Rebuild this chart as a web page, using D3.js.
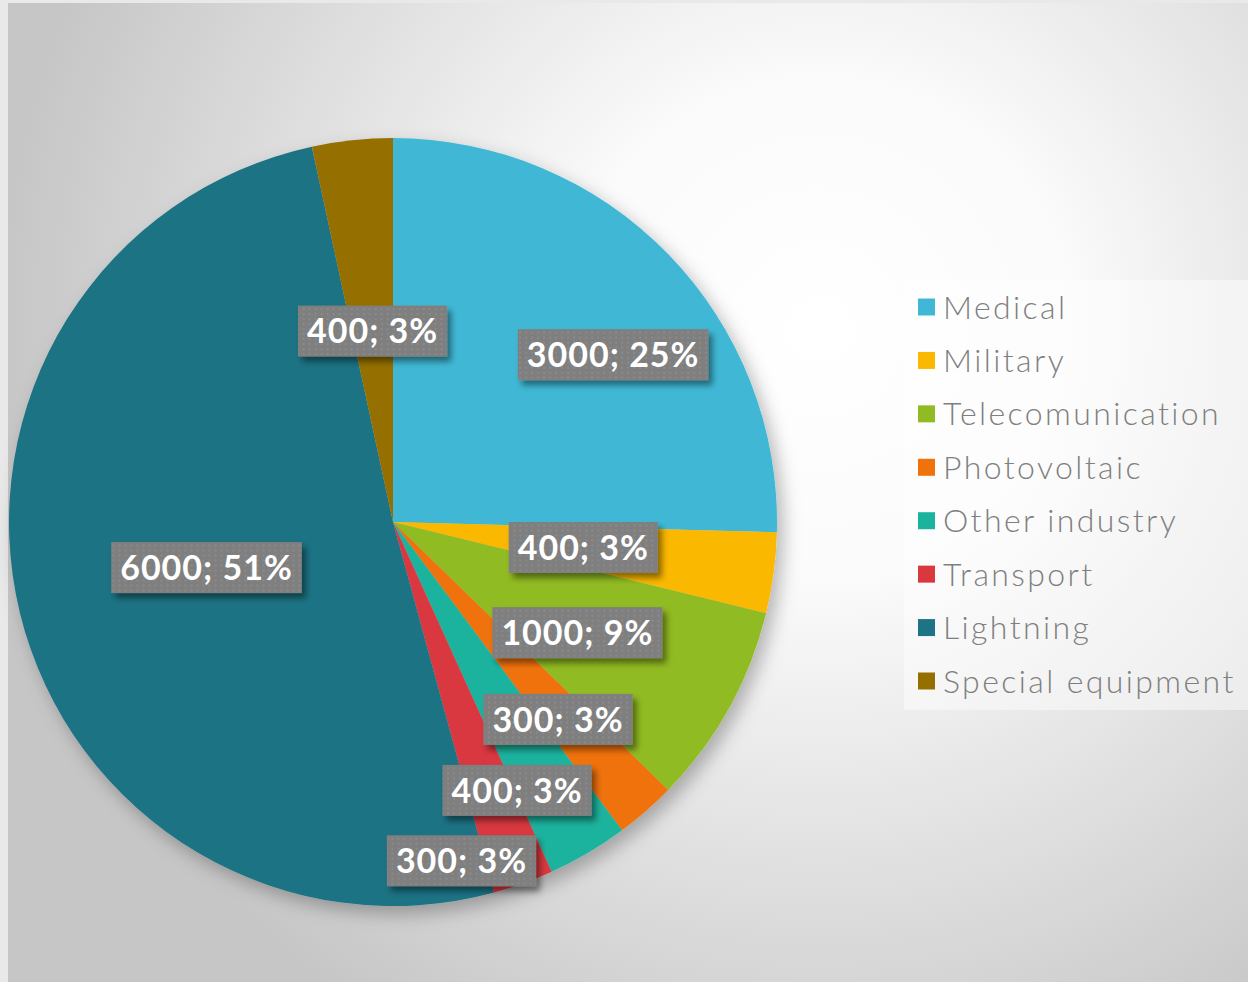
<!DOCTYPE html>
<html>
<head>
<meta charset="utf-8">
<script src="https://cdn.jsdelivr.net/npm/d3@7"></script>
<style>
html,body{margin:0;padding:0;background:#e9e9e9;}
svg{display:block;}
</style>
</head>
<body>
<svg id="chart" width="1248" height="982"></svg>
<script>
// ---- data ----
const categories = ["Medical","Military","Telecomunication","Photovoltaic","Other industry","Transport","Lightning","Special equipment"];
const values = [3000,400,1000,300,400,300,6000,400];
const percentLabels = ["25%","3%","9%","3%","3%","3%","51%","3%"];
const colors = ["#40b8d5","#fbb800","#91bb23","#ef720b","#1bb39e","#d9383f","#1e7384","#957000"];

// label placement (layout, not data): radius fraction and angle nudge in degrees
const labelRadius = [0.72,0.50,0.56,0.67,0.77,0.90,0.50,0.50];
const labelNudge  = [7,0,2,1.3,5.7,8.4,0,0];

const W = 1248, H = 982;
const cx = 393, cy = 522, R = 384;

const svg = d3.select("#chart");
const defs = svg.append("defs");

// background gradient
const bg = defs.append("radialGradient").attr("id","bgGrad")
  .attr("gradientUnits","userSpaceOnUse").attr("cx",820).attr("cy",330).attr("r",820);
bg.append("stop").attr("offset","0").attr("stop-color","#ffffff");
bg.append("stop").attr("offset","0.3").attr("stop-color","#fbfbfb");
bg.append("stop").attr("offset","1").attr("stop-color","#c6c6c6");

// pie shadow
const ps = defs.append("filter").attr("id","pieShadow").attr("x","-20%").attr("y","-20%").attr("width","140%").attr("height","140%");
ps.append("feDropShadow").attr("dx",6).attr("dy",8).attr("stdDeviation",9).attr("flood-color","#000").attr("flood-opacity",0.28);

// label shadow
const ls = defs.append("filter").attr("id","lblShadow").attr("x","-20%").attr("y","-30%").attr("width","150%").attr("height","170%");
ls.append("feDropShadow").attr("dx",4).attr("dy",5).attr("stdDeviation",3).attr("flood-color","#000").attr("flood-opacity",0.45);

// dotted pattern
const pat = defs.append("pattern").attr("id","dots").attr("patternUnits","userSpaceOnUse")
  .attr("width",6).attr("height",5);
pat.append("rect").attr("width",6).attr("height",5).attr("fill","#7f7f7f");
pat.append("rect").attr("x",2).attr("y",2).attr("width",2).attr("height",2).attr("fill","#8a8a8a");

svg.append("rect").attr("x",8).attr("y",3).attr("width",W-8).attr("height",H-3).attr("fill","url(#bgGrad)");

// pie
const pie = d3.pie().sort(null).value(d => d);
const arcs = pie(values);
const arc = d3.arc().innerRadius(0).outerRadius(R);

const g = svg.append("g").attr("transform",`translate(${cx},${cy})`);
g.append("g").attr("filter","url(#pieShadow)")
  .selectAll("path").data(arcs).join("path")
  .attr("d",arc).attr("fill",(d,i)=>colors[i]);

// labels
const lblG = g.append("g");
arcs.forEach((d,i)=>{
  const mid = (d.startAngle + d.endAngle)/2 + labelNudge[i]*Math.PI/180;
  const r = labelRadius[i]*R;
  const la = d3.arc().innerRadius(r).outerRadius(r).startAngle(mid).endAngle(mid);
  const [x,y] = la.centroid();
  const grp = lblG.append("g").attr("transform",`translate(${x},${y})`);
  const rect = grp.append("rect").attr("fill","url(#dots)").attr("filter","url(#lblShadow)");
  const t = grp.append("text")
    .attr("text-anchor","middle").attr("dy","0.36em")
    .attr("fill","#ffffff").attr("font-family","Lato, 'Open Sans', sans-serif")
    .attr("font-weight","bold").attr("font-size",34).attr("letter-spacing",1)
    .text(`${values[i]}; ${percentLabels[i]}`);
  const w = t.node().getComputedTextLength() + 18;
  const h = 51;
  rect.attr("x",-w/2).attr("y",-h/2).attr("width",w).attr("height",h);
});

// legend
const leg = svg.append("g");
leg.append("rect").attr("x",904).attr("y",280).attr("width",344).attr("height",430)
  .attr("fill","#ffffff").attr("fill-opacity",0.45);
const rowY = d3.scalePoint().domain(categories).range([307,681]);
const items = leg.selectAll("g.item").data(categories).join("g").attr("class","item")
  .attr("transform",d=>`translate(918,${rowY(d)})`);
items.append("rect").attr("x",0).attr("y",-8.5).attr("width",17).attr("height",17)
  .attr("fill",(d,i)=>colors[i]);
items.append("text").attr("x",25).attr("dy","0.36em")
  .attr("fill","#7f7f7f").attr("font-family","Lato, 'Open Sans', sans-serif")
  .attr("font-weight",300).attr("font-size",32).attr("letter-spacing",2.4)
  .text(d=>d);
</script>
</body>
</html>
